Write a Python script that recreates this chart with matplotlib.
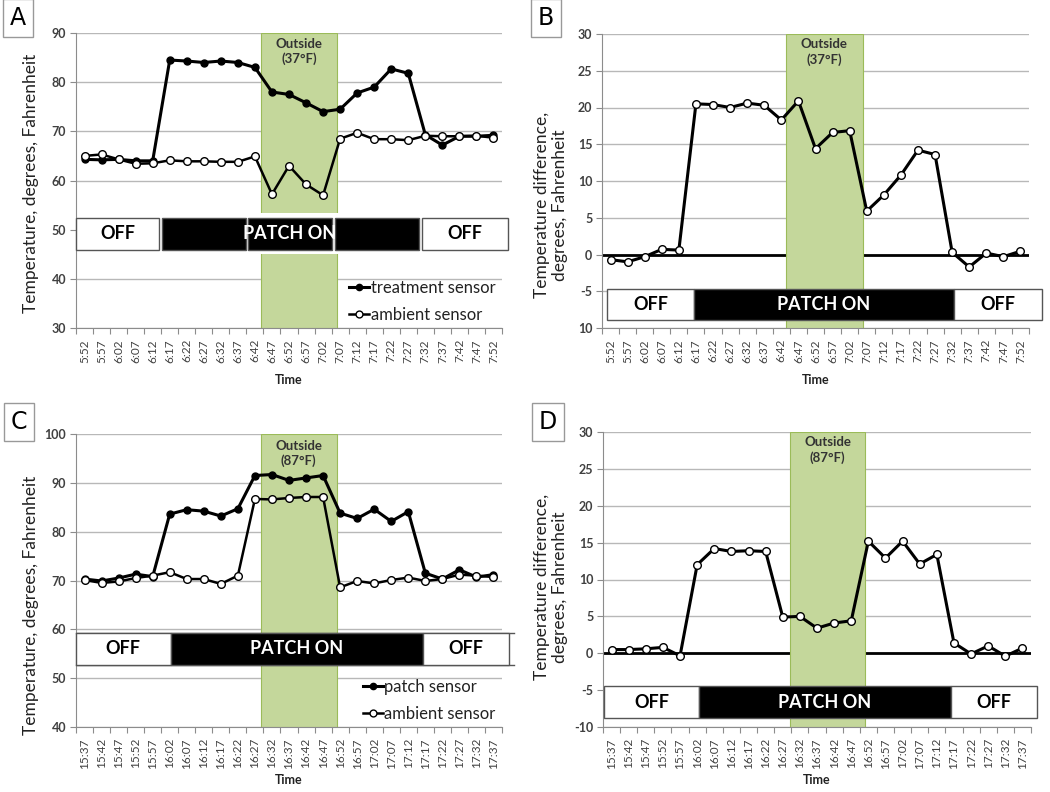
import numpy as np
import matplotlib
matplotlib.use("Agg")
import matplotlib.pyplot as plt
from matplotlib.patches import Rectangle
from matplotlib.lines import Line2D

plt.rcParams['font.family'] = ['Lato', 'DejaVu Sans']

# ---------------- data ----------------
times_morning = ["5:52", "5:57", "6:02", "6:07", "6:12", "6:17", "6:22", "6:27", "6:32",
                 "6:37", "6:42", "6:47", "6:52", "6:57", "7:02", "7:07", "7:12", "7:17",
                 "7:22", "7:27", "7:32", "7:37", "7:42", "7:47", "7:52"]
times_afternoon = ["15:37", "15:42", "15:47", "15:52", "15:57", "16:02", "16:07", "16:12",
                   "16:17", "16:22", "16:27", "16:32", "16:37", "16:42", "16:47", "16:52",
                   "16:57", "17:02", "17:07", "17:12", "17:17", "17:22", "17:27", "17:32",
                   "17:37"]

a_treatment = [64.3, 64.2, 64.3, 64.0, 64.0, 84.5, 84.3, 84.0, 84.3, 84.0, 83.0, 78.0, 77.5,
               75.8, 74.0, 74.5, 77.8, 79.0, 82.7, 81.8, 69.3, 67.2, 69.0, 69.0, 69.2]
a_ambient = [65.0, 65.3, 64.3, 63.4, 63.5, 64.1, 63.9, 63.9, 63.8, 63.8, 64.9, 57.2, 63.0,
             59.2, 57.0, 68.5, 69.7, 68.4, 68.4, 68.2, 69.1, 69.0, 69.0, 69.1, 68.7]
b_difference = [-0.7, -1.0, -0.3, 0.7, 0.6, 20.5, 20.4, 20.0, 20.6, 20.3, 18.3, 20.9, 14.4,
                16.6, 16.85, 5.9, 8.1, 10.8, 14.2, 13.6, 0.3, -1.7, 0.2, -0.3, 0.45]
c_patch = [70.3, 69.9, 70.5, 71.3, 70.8, 83.6, 84.5, 84.2, 83.2, 84.7, 91.5, 91.7, 90.5,
           91.0, 91.5, 83.8, 82.7, 84.6, 82.1, 84.1, 71.5, 70.3, 72.2, 70.7, 71.2]
c_ambient = [70.1, 69.5, 69.8, 70.5, 71.0, 71.7, 70.3, 70.3, 69.3, 71.0, 86.7, 86.6, 86.9,
             87.1, 87.1, 68.6, 69.9, 69.4, 70.1, 70.6, 69.9, 70.3, 71.2, 71.0, 70.7]
d_difference = [0.5, 0.5, 0.6, 0.8, -0.35, 12.0, 14.2, 13.8, 13.9, 13.8, 4.9, 5.0, 3.4,
                4.1, 4.4, 15.2, 12.9, 15.2, 12.1, 13.4, 1.4, -0.1, 1.0, -0.4, 0.7]

a_yticks = [30, 40, 50, 60, 70, 80, 90]
b_yticks = [-10, -5, 0, 5, 10, 15, 20, 25, 30]
b_yticklabels = ["10", "-5", "0", "5", "10", "15", "20", "25", "30"]
c_yticks = [40, 50, 60, 70, 80, 90, 100]
d_yticks = [-10, -5, 0, 5, 10, 15, 20, 25, 30]
d_yticklabels = ["-10", "-5", "0", "5", "10", "15", "20", "25", "30"]

legend_a = ["treatment sensor", "ambient sensor"]
legend_c = ["patch sensor", "ambient sensor"]
outside_a = "Outside\n(37°F)"
outside_c = "Outside\n(87°F)"

# ---------------- styles ----------------
GREEN = "#c4d79b"
GREEN_EDGE = "#9bbb59"
GRID = "#b8b8b8"
AXC = "#8c8c8c"
TXT = "#404040"
W, H = 1050, 792

fig = plt.figure(figsize=(10.5, 7.92), dpi=100)


def px_axes(l, r, t, b):
    return fig.add_axes([l / W, 1 - b / H, (r - l) / W, (b - t) / H])


def base(ax, ylim, yticks, ylabels, xlabels):
    n = len(xlabels)
    ax.set_xlim(-0.5, n - 0.5)
    ax.set_ylim(*ylim)
    for s in ["top", "right"]:
        ax.spines[s].set_visible(False)
    ax.spines["left"].set_color(AXC)
    ax.spines["bottom"].set_color(AXC)
    ax.set_yticks(yticks)
    ax.set_yticklabels(ylabels, fontsize=9, fontweight="bold", color=TXT)
    ax.tick_params(axis="y", length=4, color=AXC, pad=3)
    ax.set_xticks(np.arange(-0.5, n, 1))
    ax.set_xticklabels([])
    ax.tick_params(axis="x", which="major", length=4, color=AXC)
    ax.set_xticks(np.arange(n), minor=True)
    ax.set_xticklabels(xlabels, minor=True, rotation=90, fontsize=8.5, color=TXT)
    ax.tick_params(axis="x", which="minor", length=0, pad=8)
    ax.grid(axis="y", color=GRID, lw=1, zorder=0)
    ax.set_axisbelow(True)


def band(ax, x0, x1, y0, y1):
    ax.add_patch(Rectangle((x0, y0), x1 - x0, y1 - y0, facecolor=GREEN,
                           edgecolor=GREEN_EDGE, lw=0.8, zorder=1))


def status_bar(ax, boxes, y0, y1, edge="#555555"):
    for (x0, x1, face, label) in boxes:
        ax.add_patch(Rectangle((x0, y0), x1 - x0, y1 - y0, facecolor=face,
                               edgecolor=edge, lw=1, zorder=3, clip_on=False))
        if label:
            ax.text((x0 + x1) / 2, (y0 + y1) / 2, label, ha="center", va="center",
                    fontsize=13, fontweight="bold",
                    color="white" if face == "black" else "black", zorder=4,
                    clip_on=False)


def outside_text(ax, x, y, txt):
    ax.text(x, y, txt, ha="center", va="top", fontsize=9.5, fontweight="bold",
            color="#333333", zorder=5, linespacing=1.25)


def letter(x, y, s):
    fig.text(x / W, 1 - y / H, s, fontsize=17, ha="center", va="center",
             family="DejaVu Sans",
             bbox=dict(boxstyle="square,pad=0.3", facecolor="white", edgecolor="#999999"))


def time_label(x, y):
    fig.text(x / W, 1 - y / H, "Time", ha="center", va="center", fontsize=9,
             fontweight="bold", color="#222222")


def legend(ax):
    ax.legend(loc="lower right", bbox_to_anchor=(1.02, -0.035), frameon=False,
              fontsize=12, handlelength=1.2, handletextpad=0.1, labelspacing=0.7,
              markerscale=0.9, labelcolor="#222222")


xa = np.arange(len(times_morning))
xc = np.arange(len(times_afternoon))

# ---------------- panel A ----------------
axA = px_axes(76, 502, 33, 328)
base(axA, (30, 90), a_yticks, [str(v) for v in a_yticks], times_morning)
band(axA, 10.36, 14.8, 30, 90)
axA.add_patch(Rectangle((-0.5, 45.0), 25.5, 8.4, facecolor="white", edgecolor="none",
                        zorder=2, clip_on=False))
status_bar(axA, [(-0.5, 4.37, "white", "OFF"), (4.55, 9.48, "black", ""),
                 (9.59, 14.52, "black", "PATCH ON"), (14.7, 19.63, "black", ""),
                 (19.8, 24.85, "white", "OFF")], 45.9, 52.4)
axA.plot(xa, a_treatment, color="black", lw=2.2, marker="o", ms=5, mfc="black",
         mec="black", zorder=6, label=legend_a[0])
axA.plot(xa, a_ambient, color="black", lw=1.8, marker="o", ms=5.5, mfc="white",
         mec="black", mew=1, zorder=6, label=legend_a[1])
outside_text(axA, 12.58, 89.0, outside_a)
legend(axA)
time_label(289, 380)
fig.text(31 / W, 1 - 183 / H, "Temperature, degrees, Fahrenheit", rotation=90,
         ha="center", va="center", fontsize=12.5, color="#222222")

# ---------------- panel B ----------------
axB = px_axes(602, 1029, 34, 328)
base(axB, (-10, 30), b_yticks, b_yticklabels, times_morning)
axB.axhline(0, color="black", lw=2, zorder=1)
band(axB, 10.26, 14.76, -10.2, 30)
status_bar(axB, [(-0.21, 4.89, "white", "OFF"), (4.89, 20.1, "black", "PATCH ON"),
                 (20.1, 25.26, "white", "OFF")], -8.9, -4.7)
axB.plot(xa, b_difference, color="black", lw=2.2, marker="o", ms=5.5, mfc="white",
         mec="black", mew=1, zorder=6)
outside_text(axB, 12.51, 29.4, outside_a)
time_label(816, 380)
fig.text(551 / W, 1 - 205 / H, "Temperature difference,\ndegrees, Fahrenheit",
         rotation=90, ha="center", va="center", fontsize=12.5, color="#222222",
         linespacing=1.1)

# ---------------- panel C ----------------
axC = px_axes(76, 502, 434, 727)
base(axC, (40, 100), c_yticks, [str(v) for v in c_yticks], times_afternoon)
band(axC, 10.34, 14.8, 40, 100)
axC.add_line(Line2D([-0.5, 25.2], [59.3, 59.3], color="#555555", lw=1, zorder=3,
                    clip_on=False))
axC.add_line(Line2D([-0.5, 25.2], [52.7, 52.7], color="#555555", lw=1, zorder=3,
                    clip_on=False))
status_bar(axC, [(-0.5, 5.06, "white", "OFF"), (5.06, 19.85, "black", "PATCH ON"),
                 (19.85, 24.9, "white", "OFF")], 52.7, 59.3)
axC.plot(xc, c_patch, color="black", lw=2.2, marker="o", ms=5, mfc="black",
         mec="black", zorder=6, label=legend_c[0])
axC.plot(xc, c_ambient, color="black", lw=1.8, marker="o", ms=5.5, mfc="white",
         mec="black", mew=1, zorder=6, label=legend_c[1])
outside_text(axC, 12.57, 98.8, outside_c)
legend(axC)
time_label(289, 780)
fig.text(31 / W, 1 - 605 / H, "Temperature, degrees, Fahrenheit", rotation=90,
         ha="center", va="center", fontsize=12.5, color="#222222")

# ---------------- panel D ----------------
axD = px_axes(603, 1031, 432, 727)
base(axD, (-10, 30), d_yticks, d_yticklabels, times_afternoon)
axD.axhline(0, color="black", lw=2, zorder=1)
band(axD, 10.4, 14.82, -10, 30)
status_bar(axD, [(-0.42, 5.13, "white", "OFF"), (5.13, 19.8, "black", "PATCH ON"),
                 (19.8, 24.85, "white", "OFF")], -8.8, -4.5)
axD.plot(xc, d_difference, color="black", lw=2.2, marker="o", ms=5.5, mfc="white",
         mec="black", mew=1, zorder=6)
outside_text(axD, 12.61, 29.4, outside_c)
time_label(817, 780)
fig.text(551 / W, 1 - 587 / H, "Temperature difference,\ndegrees, Fahrenheit",
         rotation=90, ha="center", va="center", fontsize=12.5, color="#222222",
         linespacing=1.1)

# ---------------- panel letters ----------------
letter(18, 18, "A")
letter(546, 18, "B")
letter(19, 422, "C")
letter(548, 422, "D")

fig.savefig("out.png", dpi=100)
